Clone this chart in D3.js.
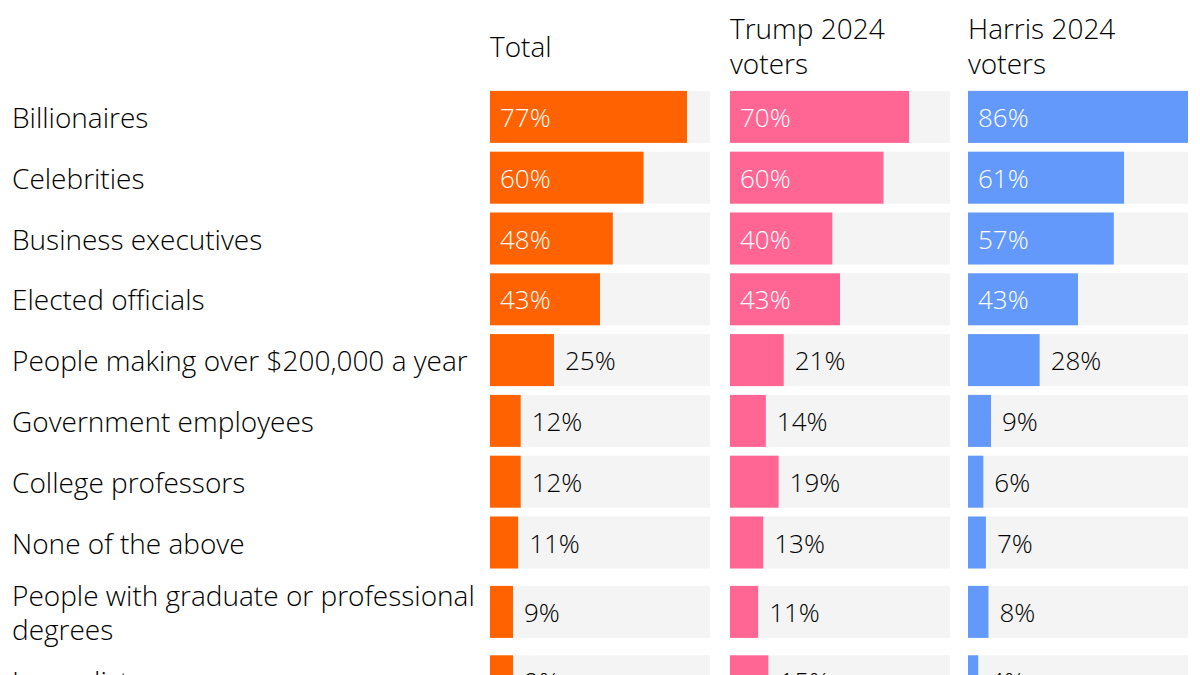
<!DOCTYPE html>
<html><head><meta charset="utf-8">
<script src="https://cdn.jsdelivr.net/npm/d3@7"></script>
<style>
html,body{margin:0;padding:0;background:#fff;overflow:hidden}
text{font-family:"Open Sans",Lato,sans-serif;font-weight:300}
</style></head>
<body><svg id="c" width="1200" height="675"></svg>
<script>
const categories = ["Billionaires","Celebrities","Business executives","Elected officials","People making over $200,000 a year","Government employees","College professors","None of the above","People with graduate or professional degrees","Journalists"];
const seriesNames = ["Total","Trump 2024 voters","Harris 2024 voters"];
const total  = [77,60,48,43,25,12,12,11,9,9];
const trump  = [70,60,40,43,21,14,19,13,11,15];
const harris = [86,61,57,43,28,9,6,7,8,4];
const colors = ["#FF6200","#FF6694","#6399FA"];
const series = [total, trump, harris];

const svg = d3.select("#c");
const FS = 28, VFS = 26;
const labelX = 12, labelMaxW = 478;
const colX = [490, 730, 968], colW = 220;
const barH = 52;

const meas = svg.append("text").attr("font-size", FS).attr("visibility","hidden");
function wrap(str){
  const words = str.split(" "); const lines=[]; let cur="";
  for(const w of words){
    const t = cur ? cur+" "+w : w;
    meas.text(t);
    if(meas.node().getComputedTextLength() > labelMaxW && cur){ lines.push(cur); cur=w; }
    else cur=t;
  }
  lines.push(cur); return lines;
}
const labelLines = categories.map(wrap);
meas.remove();

const rowTop = 86.5;
const rowHeights = labelLines.map(l => l.length > 1 ? 78 : 60.8);
const centers = []; let acc = rowTop;
rowHeights.forEach(h => { centers.push(acc + h/2); acc += h; });

const x = d3.scaleLinear().domain([0, d3.max(harris.concat(total, trump))]).range([0, colW]);

seriesNames.forEach((name, j) => {
  const lines = j === 0 ? [name] : [name.replace(" voters",""), "voters"];
  const lh = 35, cy = 45.5;
  const g = svg.append("text").attr("x", colX[j]).attr("font-size", FS).attr("fill","#000");
  lines.forEach((ln, k) => {
    g.append("tspan").attr("x", colX[j]).attr("y", cy + (k - (lines.length-1)/2)*lh)
      .attr("dominant-baseline","central").text(ln);
  });
});

categories.forEach((c, i) => {
  const lines = labelLines[i];
  const t = svg.append("text").attr("font-size", FS).attr("fill","#000");
  lines.forEach((ln, k) => {
    t.append("tspan").attr("x", labelX).attr("y", centers[i] + (k - (lines.length-1)/2)*34)
      .attr("dominant-baseline","central").text(ln);
  });
});

series.forEach((vals, j) => {
  const g = svg.append("g").attr("transform", `translate(${colX[j]},0)`);
  g.selectAll("rect.track").data(vals).join("rect").attr("class","track")
    .attr("x", 0).attr("y", (d,i) => centers[i]-barH/2).attr("width", colW).attr("height", barH)
    .attr("fill", "#F4F4F4");
  g.selectAll("rect.bar").data(vals).join("rect").attr("class","bar")
    .attr("x", 0).attr("y", (d,i) => centers[i]-barH/2).attr("width", d => x(d)).attr("height", barH)
    .attr("fill", colors[j]);
  g.selectAll("text.val").data(vals).join("text").attr("class","val")
    .attr("x", d => d >= 35 ? 10 : x(d) + 11)
    .attr("y", (d,i) => centers[i])
    .attr("dominant-baseline","central")
    .attr("font-size", VFS)
    .attr("fill", d => d >= 35 ? "#fff" : "#000")
    .text(d => d + "%");
});
</script></body></html>
